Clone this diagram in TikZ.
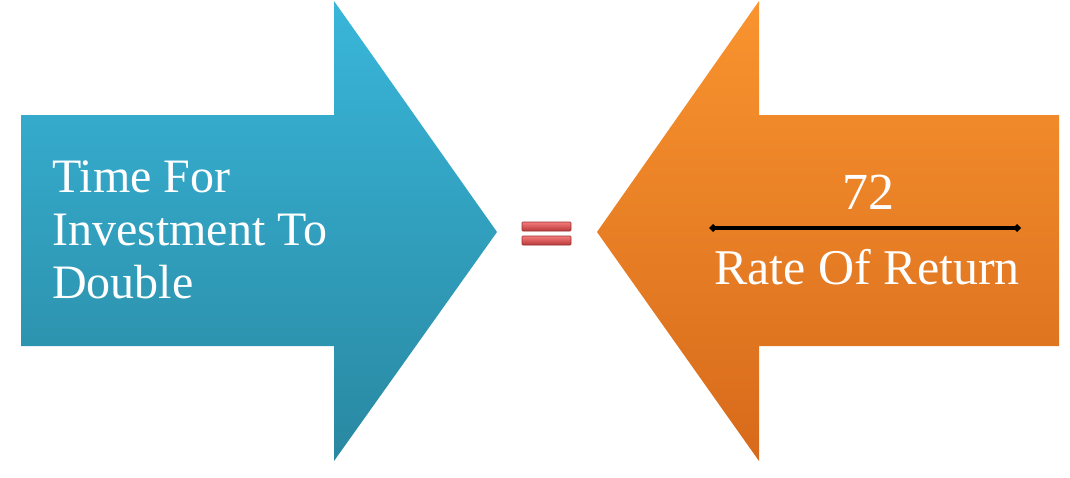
\documentclass[tikz,border=0pt]{standalone}
\usepackage{fontspec}
\setmainfont{Liberation Serif}
\usetikzlibrary{arrows.meta,positioning}
\definecolor{CyanTop}{HTML}{39B6DA}
\definecolor{CyanBot}{HTML}{2988A1}
\definecolor{OrangeTop}{HTML}{F9942F}
\definecolor{OrangeBot}{HTML}{D76A1B}
\definecolor{BarTop}{HTML}{F57A7A}
\definecolor{BarMid}{HTML}{E35252}
\definecolor{BarBot}{HTML}{B83A3A}
\definecolor{BarRule}{HTML}{9A3030}
\begin{document}
\begin{tikzpicture}[x=1pt,y=-1pt,
  label/.style={inner sep=0pt, text=white, font=\fontsize{48}{53}\selectfont},
  bar/.style={top color=BarTop, middle color=BarMid, bottom color=BarBot, draw=BarRule, line width=0.6pt, rounded corners=0.8pt},
  frac/.style={{Diamond[length=8pt,width=8pt]}-{Diamond[length=8pt,width=8pt]}, line width=3.4pt, draw=black}]
  \useasboundingbox (0,0) rectangle (1070,477);
  % the two arrows
  \shade[top color=CyanTop, bottom color=CyanBot]
    (21,115) -- (334,115) -- (334,1) -- (497,232) -- (334,461) -- (334,346) -- (21,346) -- cycle;
  \shade[top color=OrangeTop, bottom color=OrangeBot]
    (1059,115) -- (759,115) -- (759,1) -- (597,232) -- (759,461) -- (759,346) -- (1059,346) -- cycle;
  % equals sign
  \path[bar] (522,222) rectangle (571,231);
  \path[bar] (522,236) rectangle (571,245);
  % texts
  \node[label, align=left, anchor=west] (time) at (52,230) {Time For\\Investment To\\Double};
  \node[label, font=\fontsize{52}{56}\selectfont, anchor=base] (num) at (868,209) {72};
  \node[label, font=\fontsize{50}{56}\selectfont, anchor=base] (rate) at (867,284) {Rate Of Return};
  \coordinate (fracL) at (709,228);
  \coordinate (fracR) at (1021,228);
  \draw[frac] (fracL) -- (fracR);
\end{tikzpicture}
\end{document}
